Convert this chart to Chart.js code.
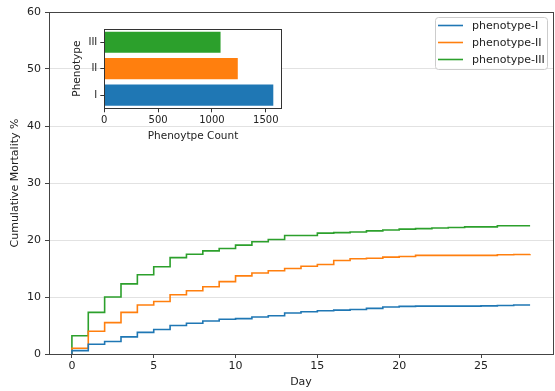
<!DOCTYPE html>
<html><head><meta charset="utf-8">
<script src="https://cdn.jsdelivr.net/npm/chart.js@4/dist/chart.umd.min.js"></script>
<style>
html,body{margin:0;padding:0;background:#fff;}
#wrap{position:relative;width:555px;height:391px;overflow:hidden;}
#main{position:absolute;left:0;top:0;}
#inset{position:absolute;left:60px;top:20px;}
</style></head><body>
<div id="wrap">
<canvas id="main" width="555" height="391"></canvas>
<canvas id="inset" width="230" height="130"></canvas>
</div>
<script>
// ---- data ----
const days = [0,1,2,3,4,5,6,7,8,9,10,11,12,13,14,15,16,17,18,19,20,21,22,23,24,25,26,27,28];
const seriesNames = ['phenotype-I','phenotype-II','phenotype-III'];
const mortalityI   = [0.6,1.7,2.2,3.0,3.8,4.3,5.0,5.4,5.8,6.1,6.2,6.5,6.7,7.2,7.4,7.6,7.7,7.8,8.0,8.25,8.35,8.4,8.4,8.4,8.4,8.45,8.5,8.6,8.6];
const mortalityII  = [1.0,4.0,5.5,7.3,8.6,9.2,10.4,11.1,11.8,12.7,13.7,14.2,14.6,15.0,15.4,15.7,16.4,16.7,16.8,17.0,17.1,17.3,17.3,17.3,17.3,17.3,17.4,17.45,17.5];
const mortalityIII = [3.2,7.3,10.0,12.3,13.9,15.3,16.9,17.5,18.1,18.5,19.1,19.7,20.1,20.8,20.8,21.2,21.3,21.4,21.6,21.75,21.9,22.0,22.1,22.2,22.3,22.3,22.5,22.5,22.5];
const xTicks = [0,5,10,15,20,25];
const yTicks = [0,10,20,30,40,50,60];
const phenotypes = ['I','II','III'];
const phenotypeCounts = [1570,1240,1080];
const insetTicks = [0,500,1000,1500];
const colors = ['#1f77b4','#ff7f0e','#2ca02c'];

const FONT = "'DejaVu Sans', sans-serif";

function stepPoints(vals){
  const pts = [{x: days[0], y: 0}];
  for (let i = 0; i < days.length; i++) pts.push({x: days[i], y: vals[i]});
  return pts;
}

const frame = {
  id: 'frame',
  beforeDraw(chart, args, opts){
    if (!opts.fill) return;
    const a = chart.chartArea, c = chart.ctx;
    c.save(); c.fillStyle = opts.fill; c.fillRect(a.left, a.top, a.right - a.left, a.bottom - a.top); c.restore();
  },
  afterDraw(chart, args, opts){
    const a = chart.chartArea, c = chart.ctx;
    c.save(); c.strokeStyle = opts.color || '#444'; c.lineWidth = 1;
    c.strokeRect(Math.round(a.left)+0.5, Math.round(a.top)+0.5, Math.round(a.right - a.left), Math.round(a.bottom - a.top));
    c.restore();
  }
};

const boxLegend = {
  id: 'boxLegend',
  afterDraw(chart){
    const c = chart.ctx, a = chart.chartArea;
    const ds = chart.data.datasets;
    c.save();
    c.font = "11px " + FONT;
    const w = 112, h = 52;
    const x0 = a.right - 6 - w, y0 = a.top + 5;
    c.fillStyle = 'rgba(255,255,255,0.85)';
    c.strokeStyle = '#cccccc'; c.lineWidth = 1;
    c.beginPath();
    if (c.roundRect) c.roundRect(x0+0.5, y0+0.5, w, h, 3); else c.rect(x0+0.5, y0+0.5, w, h);
    c.fill(); c.stroke();
    c.textBaseline = 'middle'; c.textAlign = 'left';
    ds.forEach((d, i) => {
      const y = y0 + 8.5 + i * 17;
      c.strokeStyle = d.borderColor; c.lineWidth = 1.6;
      c.beginPath(); c.moveTo(x0 + 3, y); c.lineTo(x0 + 28, y); c.stroke();
      c.fillStyle = '#222';
      c.fillText(d.label, x0 + 37, y + 0.5);
    });
    c.restore();
  }
};

new Chart(document.getElementById('main'), {
  type: 'line',
  data: {
    datasets: [mortalityI, mortalityII, mortalityIII].map((v, i) => ({
      label: seriesNames[i],
      data: stepPoints(v),
      borderColor: colors[i],
      backgroundColor: colors[i],
      borderWidth: 1.6,
      pointRadius: 0,
      stepped: true,
      fill: false
    }))
  },
  options: {
    responsive: false, animation: false, devicePixelRatio: 1,
    layout: {padding: {left: 0, right: 2, top: 12, bottom: 0}},
    plugins: {legend: {display: false}, tooltip: {enabled: false}, frame: {color: '#444'}},
    scales: {
      x: {
        type: 'linear', min: -1.4, max: 29.4,
        afterBuildTicks: s => { s.ticks = xTicks.map(v => ({value: v})); },
        afterFit: s => { s.height = 37; },
        grid: {drawOnChartArea: false, drawTicks: true, tickLength: 4, tickColor: '#444'},
        border: {display: true, color: '#444'},
        ticks: {color: '#222', font: {family: FONT, size: 11}, padding: 2, maxRotation: 0, callback: v => String(v)},
        title: {display: true, text: 'Day', color: '#222', font: {family: FONT, size: 11}, padding: {top: 0, bottom: 2.4}}
      },
      y: {
        type: 'linear', min: 0, max: 60,
        afterBuildTicks: s => { s.ticks = yTicks.map(v => ({value: v})); },
        afterFit: s => { s.width = 49; },
        grid: {color: '#e2e2e2', lineWidth: 1, drawTicks: true, tickLength: 4, tickColor: '#444'},
        border: {display: true, color: '#444'},
        ticks: {color: '#222', font: {family: FONT, size: 11}, padding: 4, callback: v => String(v)},
        title: {display: true, text: 'Cumulative Mortality %', color: '#222', font: {family: FONT, size: 11}, padding: {top: 9, bottom: 0}}
      }
    }
  },
  plugins: [frame, boxLegend]
});

new Chart(document.getElementById('inset'), {
  type: 'bar',
  data: {
    labels: phenotypes,
    datasets: [{data: phenotypeCounts, backgroundColor: colors, borderWidth: 0, barPercentage: 0.8, categoryPercentage: 1.0}]
  },
  options: {
    indexAxis: 'y',
    responsive: false, animation: false, devicePixelRatio: 1,
    layout: {padding: {left: 0, right: 8.3, top: 6, bottom: 0}},
    plugins: {legend: {display: false}, tooltip: {enabled: false}, frame: {color: '#333', fill: '#ffffff'}},
    scales: {
      x: {
        type: 'linear', min: 0, max: 1648,
        afterBuildTicks: s => { s.ticks = insetTicks.map(v => ({value: v})); },
        afterFit: s => { s.height = 41.7; },
        grid: {drawOnChartArea: false, drawTicks: true, tickLength: 4, tickColor: '#333'},
        border: {display: true, color: '#333'},
        ticks: {color: '#222', font: {family: FONT, size: 10}, padding: 2, maxRotation: 0, callback: v => String(v)},
        title: {display: true, text: 'Phenoytpe Count', color: '#222', font: {family: FONT, size: 10.5}, padding: {top: 0, bottom: 7}}
      },
      y: {
        type: 'category', reverse: true,
        afterFit: s => { s.width = 44.3; },
        grid: {offset: false, drawOnChartArea: false, drawTicks: true, tickLength: 4, tickColor: '#333'},
        border: {display: true, color: '#333'},
        ticks: {color: '#222', font: {family: FONT, size: 10}, padding: 3},
        title: {display: true, text: 'Phenotype', color: '#222', font: {family: FONT, size: 10.5}, padding: {top: 11, bottom: 0}}
      }
    }
  },
  plugins: [frame]
});
</script>
</body></html>
